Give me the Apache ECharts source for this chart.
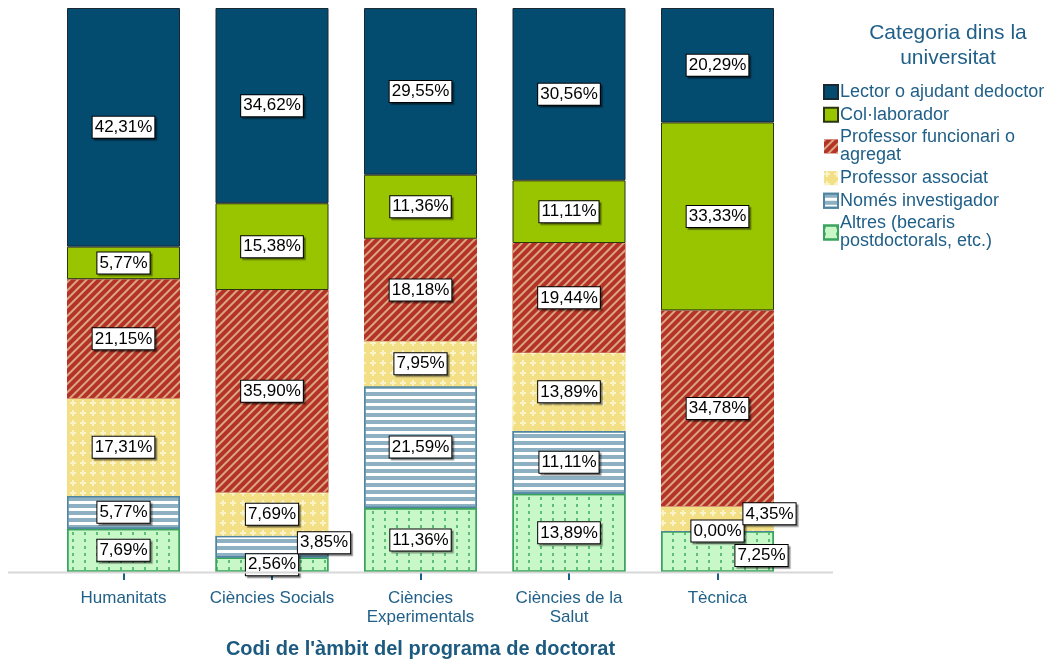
<!DOCTYPE html>
<html>
<head>
<meta charset="utf-8">
<script src="https://cdn.jsdelivr.net/npm/echarts@6/dist/echarts.min.js"></script>
<style>html,body{margin:0;padding:0;background:#fff}#c{width:1050px;height:664px}</style>
</head>
<body>
<div id="c"></div>
<script>
const categories = ['Humanitats', 'Ciències Socials', 'Ciències\nExperimentals', 'Ciències de la\nSalut', 'Tècnica'];
const seriesNames = ['Lector o ajudant dedoctor', 'Col·laborador', 'Professor funcionari o\nagregat', 'Professor associat', 'Només investigador', 'Altres (becaris\npostdoctorals, etc.)'];
// values per category (%)
const lector      = [42.31, 34.62, 29.55, 30.56, 20.29];
const collab      = [5.77, 15.38, 11.36, 11.11, 33.33];
const funcionari  = [21.15, 35.90, 18.18, 19.44, 34.78];
const associat    = [17.31, 7.69, 7.95, 13.89, 4.35];
const investigador= [5.77, 3.85, 21.59, 11.11, 0.00];
const altres      = [7.69, 2.56, 11.36, 13.89, 7.25];

// label displacement for crowded small segments (series index -> category index -> [dx, dy])
const labelShift = {
  3: {4: [52, -5]},
  4: {1: [52, -4]},
  5: {4: [44, 4]}
};

const TEXT = '#1f5f88';
const FONT = 'Liberation Sans';

const styles = [
  {color: '#034b6f', borderColor: '#1a2833', borderWidth: 1},
  {color: '#99c400', borderColor: '#2b3510', borderWidth: 1},
  {color: '#b5322a', borderColor: '#b5322a', borderWidth: 0,
    decal: {symbol: 'rect', symbolSize: 1, dashArrayX: [[1, 0]], dashArrayY: [2, 3.5], rotation: -Math.PI / 4, color: '#d9a77b'}},
  {color: '#f2df86', borderColor: '#f2df86', borderWidth: 0,
    decal: {symbol: 'path://M2,0h2v2h2v2h-2v2h-2v-2h-2v-2h2z', symbolSize: 1, dashArrayX: [6, 4], dashArrayY: [6, 4], color: '#fbf3c8'}},
  {color: '#ffffff', borderColor: '#4f85a0', borderWidth: 1.5,
    decal: {symbol: 'rect', symbolSize: 1, dashArrayX: [[1, 0]], dashArrayY: [4, 2.5], color: '#8db0c2'}},
  {color: '#c8f7c8', borderColor: '#3aa35e', borderWidth: 1.5,
    decal: {symbol: 'rect', symbolSize: 1, dashArrayX: [1.5, 9.5], dashArrayY: [2.5, 3.5], color: '#5cbf78'}}
];

const valuesTopDown = [lector, collab, funcionari, associat, investigador, altres];
// stacking order bottom-up
const order = [5, 4, 3, 2, 1, 0];

const series = order.map(function (si) {
  return {
    name: seriesNames[si],
    type: 'bar',
    stack: 'total',
    barWidth: 113,
    itemStyle: styles[si],
    emphasis: {disabled: true},
    data: valuesTopDown[si].map(function (v, ci) {
      const d = {value: v};
      if (labelShift[si] && labelShift[si][ci]) {
        d.label = {offset: labelShift[si][ci]};
      }
      return d;
    }),
    label: {
      show: true,
      position: 'inside',
      formatter: function (p) { return p.value.toFixed(2).replace('.', ',') + '%'; },
      color: '#000',
      fontFamily: FONT,
      fontSize: 17,
      lineHeight: 18,
      backgroundColor: '#fff',
      borderColor: '#000',
      borderWidth: 1,
      padding: [2, 2, 1, 2],
      shadowColor: 'rgba(0,0,0,0.35)',
      shadowOffsetX: 2,
      shadowOffsetY: 2,
      shadowBlur: 1
    }
  };
});

const chart = echarts.init(document.getElementById('c'), null, {renderer: 'canvas'});
chart.setOption({
  animation: false,
  backgroundColor: '#fff',
  title: {
    text: 'Categoria dins la\nuniversitat',
    left: 943,
    top: 16,
    textAlign: 'center',
    textStyle: {fontFamily: FONT, fontSize: 21, fontWeight: 'normal', color: TEXT, lineHeight: 25}
  },
  legend: {
    orient: 'vertical',
    left: 818,
    top: 78,
    data: seriesNames,
    icon: 'rect',
    itemWidth: 14,
    itemHeight: 14,
    itemGap: 4.7,
    selectedMode: false,
    textStyle: {fontFamily: FONT, fontSize: 18, lineHeight: 18, color: TEXT, padding: [0, 0, 0, -3]}
  },
  grid: {left: 49.25, right: 258.25, top: 8, bottom: 92, outerBoundsMode: 'none', containLabel: false},
  xAxis: {
    type: 'category',
    data: categories,
    offset: 3,
    axisLine: {show: false},
    axisTick: {show: true, alignWithLabel: true, length: 8, lineStyle: {color: TEXT, width: 2}},
    axisLabel: {fontFamily: FONT, fontSize: 17, color: TEXT, margin: 14, lineHeight: 19, interval: 0},
    name: "Codi de l'àmbit del programa de doctorat",
    nameLocation: 'middle',
    nameGap: 64,
    nameTextStyle: {fontFamily: FONT, fontSize: 20, fontWeight: 'bold', color: '#1d5a80'}
  },
  yAxis: {type: 'value', min: 0, max: 100, show: false},
  graphic: [{
    type: 'line', z: 10,
    shape: {x1: 8, y1: 572.5, x2: 833, y2: 572.5},
    style: {stroke: '#d8d8d8', lineWidth: 2}
  }],
  series: series
});
</script>
</body>
</html>
